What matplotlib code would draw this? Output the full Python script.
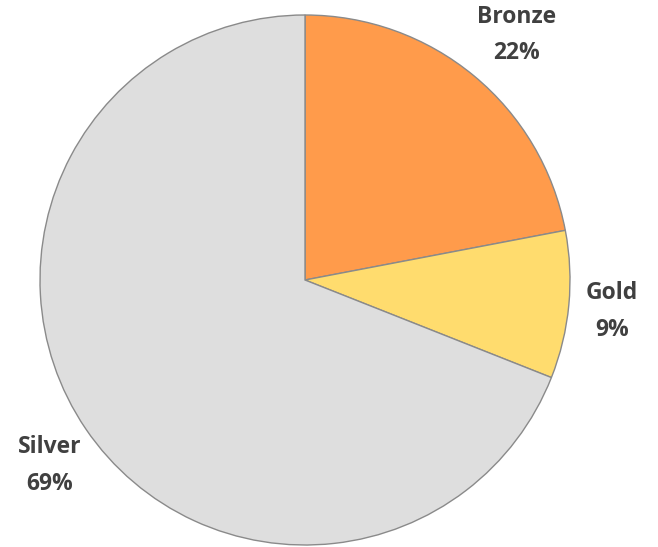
import matplotlib

matplotlib.use("Agg")
import matplotlib.pyplot as plt  # noqa: E402

labels = ["Bronze", "Gold", "Silver"]
shares = [22, 9, 69]
colors = ["#FF9B4B", "#FFDC6E", "#DEDEDE"]
label_pos = [(0.80, 0.925), (1.158, -0.12), (-0.962, -0.70)]

fig = plt.figure(figsize=(6.58, 5.47), dpi=100)
ax = fig.add_axes([40 / 658, 2 / 547, 530 / 658, 530 / 547])
ax.pie(
    shares,
    colors=colors,
    startangle=90,
    counterclock=False,
    radius=1.0,
    wedgeprops={"edgecolor": "#8a8a8a", "linewidth": 1.0},
)
for name, val, (x, y) in zip(labels, shares, label_pos):
    ax.text(x, y, f"{name}\n{val}%", ha="center", va="center", fontsize=16.5,
            fontweight="bold", family="Open Sans", color="#404040",
            linespacing=1.7, clip_on=False)
ax.set_xlim(-1, 1)
ax.set_ylim(-1, 1)
ax.set_aspect("equal")
ax.axis("off")
fig.savefig("out.png", dpi=100)
plt.close(fig)
